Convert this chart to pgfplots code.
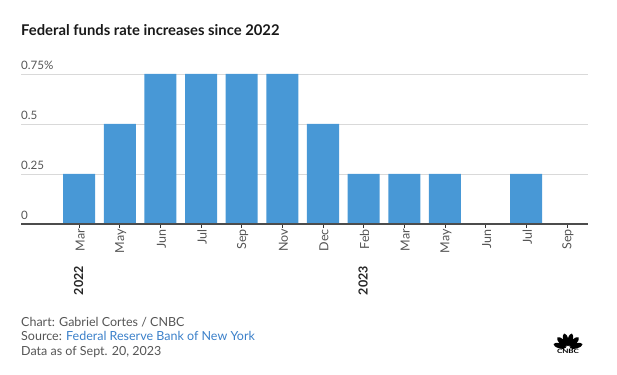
\documentclass[border=0pt]{standalone}
\usepackage{pgfplots}
\pgfplotsset{compat=1.18}
\usepackage{fontspec}
\setmainfont{Lato}
\definecolor{barblue}{RGB}{72,152,214}
\definecolor{gridgray}{RGB}{217,217,217}
\definecolor{labgray}{RGB}{85,85,85}
\definecolor{linkblue}{RGB}{58,127,201}
\begin{document}
\begin{tikzpicture}[x=1pt,y=1pt]
\useasboundingbox (0,0) rectangle (617,374);
\node[anchor=base west,inner sep=0pt,font=\fontsize{14.8}{17}\selectfont\bfseries,text=black!90] at (21,338) {Federal funds rate increases since 2022};
\begin{axis}[
  at={(21pt,150pt)}, anchor=south west,
  scale only axis, width=567pt, height=150pt,
  xmin=-1.43, xmax=12.52, ymin=0, ymax=0.75,
  axis y line=none, axis x line*=bottom,
  x axis line style={draw=black!70, line width=1.2pt,-},
  xtick={0,...,12},
  xticklabels={Mar,May,Jun,Jul,Sep,Nov,Dec,Feb,Mar,May,Jun,Jul,Sep},
  xticklabel style={rotate=90, anchor=east, inner sep=0pt, font=\fontsize{12.5}{14}\selectfont, text=labgray, xshift=-1pt, yshift=-1pt},
  x tick style={draw=black!80, line width=0.7pt},
  tick align=outside, major tick length=4pt,
  ytick=\empty,
  clip=false,
]
\foreach \yy in {0.25,0.5,0.75} {
  \edef\tmp{\noexpand\draw[gridgray, line width=0.8pt] (axis cs:-1.43,\yy) -- (axis cs:12.52,\yy);}
  \tmp
}
\addplot[ybar, bar width=32pt, fill=barblue, draw=none] coordinates {
(0,0.25) (1,0.5) (2,0.75) (3,0.75) (4,0.75) (5,0.75) (6,0.5) (7,0.25) (8,0.25) (9,0.25) (10,0) (11,0.25) (12,0)};
\draw[black!70, line width=1.2pt] (axis cs:-1.43,0) -- (axis cs:12.52,0);
\node[anchor=south west, inner sep=0pt, font=\fontsize{11.6}{13}\selectfont, text=labgray] at (axis cs:-1.43,0) [yshift=4pt] {0};
\node[anchor=south west, inner sep=0pt, font=\fontsize{11.6}{13}\selectfont, text=labgray] at (axis cs:-1.43,0.25) [yshift=4pt] {0.25};
\node[anchor=south west, inner sep=0pt, font=\fontsize{11.6}{13}\selectfont, text=labgray] at (axis cs:-1.43,0.5) [yshift=4pt] {0.5};
\node[anchor=south west, inner sep=0pt, font=\fontsize{11.6}{13}\selectfont, text=labgray] at (axis cs:-1.43,0.75) [yshift=4pt] {0.75\%};
\coordinate (y22) at (axis cs:0,0);
\coordinate (y23) at (axis cs:7,0);
\end{axis}
\node[rotate=90, anchor=east, inner sep=0pt, font=\fontsize{12.5}{14}\selectfont\bfseries, text=black!85] at ([yshift=-42pt,xshift=-0.5pt]y22) {2022};
\node[rotate=90, anchor=east, inner sep=0pt, font=\fontsize{12.5}{14}\selectfont\bfseries, text=black!85] at ([yshift=-42pt,xshift=-0.5pt]y23) {2023};
\node[anchor=base west,inner sep=0pt,font=\fontsize{12.5}{14}\selectfont,text=labgray] at (21,47) {Chart: Gabriel Cortes / CNBC};
\node[anchor=base west,inner sep=0pt,font=\fontsize{12.5}{14}\selectfont,text=labgray] at (21,33) {Source: \textcolor{linkblue}{Federal Reserve Bank of New York}};
\node[anchor=base west,inner sep=0pt,font=\fontsize{12.5}{14}\selectfont,text=labgray] at (21,19) {Data as of Sept. 20, 2023};
% CNBC logo
\begin{scope}[shift={(568,26)}]
\foreach \a in {-75,-45,-15,15,45,75} {
  \fill[black, rotate=\a] (0,8.5) ellipse (2.6 and 6.5);
}
\node[anchor=north, inner sep=0pt, yscale=0.75, font=\fontsize{8}{9}\selectfont\bfseries] at (0,-0.5) {CNBC};
\end{scope}
\end{tikzpicture}
\end{document}
